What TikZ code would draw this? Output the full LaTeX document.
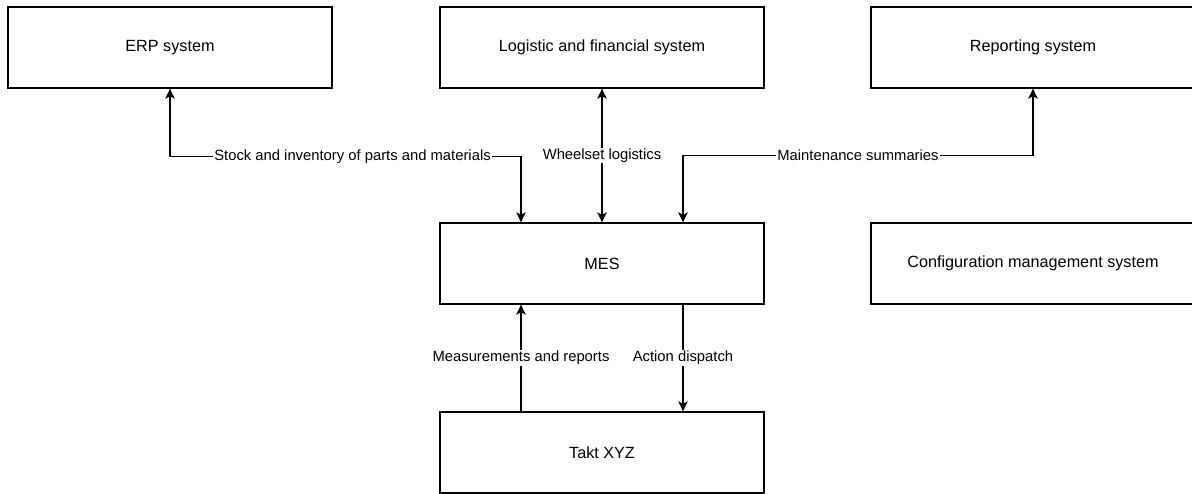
\documentclass[tikz,border=0pt]{standalone}
\usepackage{fontspec}
\setmainfont{Liberation Sans}
\usetikzlibrary{arrows.meta}
\begin{document}
\begin{tikzpicture}[x=1pt,y=-1pt,
  box/.style={draw, line width=1.35pt, minimum width=324pt, minimum height=81pt, inner sep=0pt,
    font=\fontsize{16.2pt}{19pt}\selectfont},
  conn/.style={line width=1.35pt, line join=miter},
  tipone/.style={-{Stealth[length=10pt,width=9.5pt,inset=2.5pt]}},
  tiptwo/.style={{Stealth[length=10pt,width=9.5pt,inset=2.5pt]}-{Stealth[length=10pt,width=9.5pt,inset=2.5pt]}},
  lbl/.style={fill=white, inner sep=1pt, font=\fontsize{14.8pt}{17pt}\selectfont}]
\useasboundingbox (0,0) rectangle (1192,493);
\node[box] (erp) at (170,47.5) {ERP system};
\node[box] (lfs) at (602,47.5) {Logistic and financial system};
\node[box] (rep) at (1033,47.5) {Reporting system};
\node[box] (mes) at (602,263.5) {MES};
\node[box] (cms) at (1033,263.5) {Configuration management system};
\node[box] (takt) at (602,452.5) {Takt XYZ};
\draw[conn,tiptwo] (erp.south) -- ++(0,68) -| ([xshift=-81pt]mes.north)
  node[lbl,pos=0.26] {Stock and inventory of parts and materials};
\draw[conn,tiptwo] (lfs.south) -- (mes.north) node[lbl,midway] {Wheelset logistics};
\draw[conn,tiptwo] ([xshift=81pt]mes.north) -- ++(0,-67) -| (rep.south)
  node[lbl,pos=0.25] {Maintenance summaries};
\draw[conn,tipone] ([xshift=-81pt]takt.north) -- ([xshift=-81pt]mes.south)
  node[lbl,midway] {Measurements and reports};
\draw[conn,tipone] ([xshift=81pt]mes.south) -- ([xshift=81pt]takt.north)
  node[lbl,midway] {Action dispatch};
\end{tikzpicture}
\end{document}
